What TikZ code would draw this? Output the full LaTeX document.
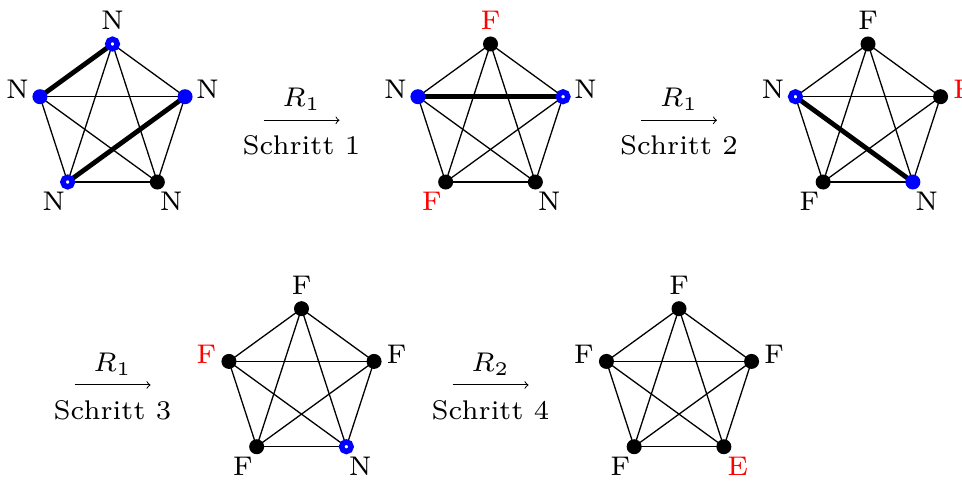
\documentclass[tikz,border=0pt]{standalone}
\usetikzlibrary{calc}
\begin{document}
\begin{tikzpicture}[x=0.5pt,y=0.5pt,
  vblack/.style={circle, fill=black, inner sep=0pt, minimum size=7.5pt},
  vblue/.style={circle, fill=blue, inner sep=0pt, minimum size=7.5pt},
  vring/.style={circle, fill=white, draw=blue, line width=2.75pt, inner sep=0pt, minimum size=4.75pt},
  thinedge/.style={line width=0.65pt},
  thickedge/.style={line width=2.4pt},
  lbl/.style={font=\fontsize{7}{8}\selectfont, scale=1.93, inner sep=0pt},
  steparrow/.style={->, line width=0.5pt},
]
\useasboundingbox (0,0) rectangle (962,481);
% coordinates of the five pentagons
\foreach \k/\cx/\cy in {1/112.5/360.7, 2/490.5/360.7, 3/868/360.7, 4/301.5/96, 5/679/96} {
  \coordinate (c\k) at (\cx,\cy);
  \foreach \v/\ang in {t/90, l/162, r/18, bl/234, br/306} {
    \coordinate (\k\v) at ($(c\k)+(\ang:76.3)$);
    \coordinate (\k\v L) at ($(c\k)+(\ang:100)$);
  }
  \foreach \p/\q in {t/l, t/r, t/bl, t/br, l/r, l/bl, l/br, r/bl, r/br, bl/br}
    \draw[thinedge] (\k\p) -- (\k\q);
}
% thick edges
\draw[thickedge] (1t) -- (1l);
\draw[thickedge] (1bl) -- (1r);
\draw[thickedge] (2l) -- (2r);
\draw[thickedge] (3l) -- (3br);

% pentagon 1
\node[vring]  (n1t)  at (1t)  {};
\node[vblue]  (n1l)  at (1l)  {};
\node[vblue]  (n1r)  at (1r)  {};
\node[vring]  (n1bl) at (1bl) {};
\node[vblack] (n1br) at (1br) {};
\node[lbl] (l1t)  at (1tL)  {N};
\node[lbl] (l1l)  at (1lL)  {N};
\node[lbl] (l1r)  at (1rL)  {N};
\node[lbl] (l1bl) at (1blL) {N};
\node[lbl] (l1br) at (1brL) {N};

% pentagon 2
\node[vblack] (n2t)  at (2t)  {};
\node[vblue]  (n2l)  at (2l)  {};
\node[vring]  (n2r)  at (2r)  {};
\node[vblack] (n2bl) at (2bl) {};
\node[vblack] (n2br) at (2br) {};
\node[lbl, text=red] (l2t)  at (2tL)  {F};
\node[lbl] (l2l)  at (2lL)  {N};
\node[lbl] (l2r)  at (2rL)  {N};
\node[lbl, text=red] (l2bl) at (2blL) {F};
\node[lbl] (l2br) at (2brL) {N};

% pentagon 3
\node[vblack] (n3t)  at (3t)  {};
\node[vring]  (n3l)  at (3l)  {};
\node[vblack] (n3r)  at (3r)  {};
\node[vblack] (n3bl) at (3bl) {};
\node[vblue]  (n3br) at (3br) {};
\node[lbl] (l3t)  at (3tL)  {F};
\node[lbl] (l3l)  at (3lL)  {N};
\node[lbl, text=red] (l3r)  at (3rL)  {F};
\node[lbl] (l3bl) at (3blL) {F};
\node[lbl] (l3br) at (3brL) {N};

% pentagon 4
\node[vblack] (n4t)  at (4t)  {};
\node[vblack] (n4l)  at (4l)  {};
\node[vblack] (n4r)  at (4r)  {};
\node[vblack] (n4bl) at (4bl) {};
\node[vring]  (n4br) at (4br) {};
\node[lbl] (l4t)  at (4tL)  {F};
\node[lbl, text=red] (l4l)  at (4lL)  {F};
\node[lbl] (l4r)  at (4rL)  {F};
\node[lbl] (l4bl) at (4blL) {F};
\node[lbl] (l4br) at (4brL) {N};

% pentagon 5
\node[vblack] (n5t)  at (5t)  {};
\node[vblack] (n5l)  at (5l)  {};
\node[vblack] (n5r)  at (5r)  {};
\node[vblack] (n5bl) at (5bl) {};
\node[vblack] (n5br) at (5br) {};
\node[lbl] (l5t)  at (5tL)  {F};
\node[lbl] (l5l)  at (5lL)  {F};
\node[lbl] (l5r)  at (5rL)  {F};
\node[lbl] (l5bl) at (5blL) {F};
\node[lbl, text=red] (l5br) at (5brL) {E};

% step arrows
\foreach \k/\cx/\cy/\r/\s in {1/301.5/360.7/1/1, 2/679/360.7/1/2, 3/112.5/96/1/3, 4/490.5/96/2/4} {
  \coordinate (as\k) at (\cx-38,\cy);
  \coordinate (ae\k) at (\cx+38,\cy);
  \draw[steparrow] (as\k) -- (ae\k);
  \node[lbl] (ar\k) at (\cx,\cy+21) {$R_{\r}$};
  \node[lbl] (at\k) at (\cx,\cy-25) {Schritt \s};
}
\end{tikzpicture}
\end{document}
